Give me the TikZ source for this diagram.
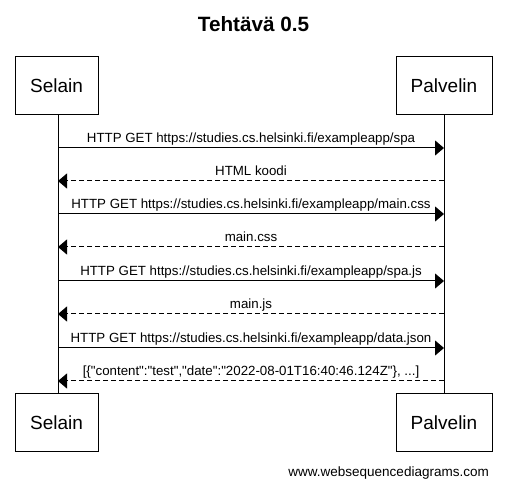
\documentclass[tikz,border=0pt]{standalone}
\usepackage{fontspec}
\setmainfont{Liberation Sans}[Ligatures=TeXOff]
\usetikzlibrary{arrows.meta}
\begin{document}
\begin{tikzpicture}[x=1pt,y=-1pt,
  actor/.style={draw,line width=1pt,inner sep=0pt,minimum height=58pt,font=\fontsize{19}{22}\selectfont},
  lifeline/.style={line width=1pt},
  msg/.style={line width=1pt,-{Triangle[length=9pt,width=15pt]}},
  reply/.style={msg,dash pattern=on 5pt off 3pt},
  lbl/.style={midway,anchor=base,yshift=5pt,inner sep=0pt,font=\fontsize{13.3}{15}\selectfont}]
\useasboundingbox (0,0) rectangle (507,486);
\node[font=\fontsize{20.7}{24}\selectfont\bfseries,anchor=base] (title) at (253.5,31.5) {Tehtävä 0.5};
\node[actor,minimum width=83pt] (s) at (56.5,86) {Selain};
\node[actor,minimum width=96pt] (p) at (444,86) {Palvelin};
\node[actor,minimum width=83pt] (sb) at (56.5,422.5) {Selain};
\node[actor,minimum width=96pt] (pb) at (444,422.5) {Palvelin};
\draw[lifeline] (s.south -| 58,0) -- (sb.north -| 58,0);
\draw[lifeline] (p.south) -- (pb.north);
\foreach \i/\y in {1/148,2/181,3/214,4/247,5/281,6/314,7/348,8/381}{
  \coordinate (s\i) at (58,\y);
  \coordinate (p\i) at (444,\y);
}
\draw[msg] (s1) -- node[lbl]{HTTP GET https://studies.cs.helsinki.fi/exampleapp/spa} (p1);
\draw[reply] (p2) -- node[lbl]{HTML koodi} (s2);
\draw[msg] (s3) -- node[lbl]{HTTP GET https://studies.cs.helsinki.fi/exampleapp/main.css} (p3);
\draw[reply] (p4) -- node[lbl]{main.css} (s4);
\draw[msg] (s5) -- node[lbl]{HTTP GET https://studies.cs.helsinki.fi/exampleapp/spa.js} (p5);
\draw[reply] (p6) -- node[lbl]{main.js} (s6);
\draw[msg] (s7) -- node[lbl]{HTTP GET https://studies.cs.helsinki.fi/exampleapp/data.json} (p7);
\draw[reply] (p8) -- node[lbl]{[\{"content":"test","date":"2022-08-01T16:40:46.124Z"\}, ...]} (s8);
\node[anchor=base east,inner sep=0pt,font=\fontsize{13.5}{16}\selectfont] (wsd) at (489,477) {www.websequencediagrams.com};
\end{tikzpicture}
\end{document}
